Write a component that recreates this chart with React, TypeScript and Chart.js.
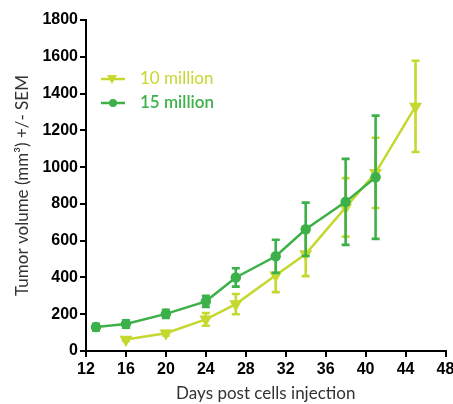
import React, { useEffect, useRef } from "react";
import { Chart, registerables } from "chart.js";

Chart.register(...registerables);

const xTicks = [12, 16, 20, 24, 28, 32, 36, 40, 44, 48];
const yTicks = [0, 200, 400, 600, 800, 1000, 1200, 1400, 1600, 1800];

const label10 = "10 million";
const days10 = [16, 20, 24, 27, 31, 34, 38, 41, 45];
const mean10 = [62, 97, 172, 255, 412, 527, 781, 969, 1330];
const sem10 = [8, 12, 35, 55, 92, 120, 159, 191, 248];

const label15 = "15 million";
const days15 = [13, 16, 20, 24, 27, 31, 34, 38, 41];
const mean15 = [130, 147, 202, 270, 400, 515, 662, 811, 945];
const sem15 = [18, 20, 22, 30, 50, 90, 145, 234, 335];

const color10 = "#c4d82f";
const color15 = "#3cb14a";

const errorBarPlugin = {
  id: "errorBars",
  afterDatasetDraw(chart: any, args: any) {
    const ds = chart.data.datasets[args.index] as any;
    const errs: number[] = ds.errors;
    if (!errs) return;
    const xs = chart.scales.x;
    const ys = chart.scales.y;
    const ctx = chart.ctx;
    ctx.save();
    ctx.strokeStyle = ds.borderColor;
    ctx.lineWidth = 2.6;
    ds.data.forEach((p: any, i: number) => {
      const px = xs.getPixelForValue(p.x);
      const top = ys.getPixelForValue(p.y + errs[i]);
      const bot = ys.getPixelForValue(p.y - errs[i]);
      ctx.beginPath();
      ctx.moveTo(px, top);
      ctx.lineTo(px, bot);
      ctx.moveTo(px - 4, top);
      ctx.lineTo(px + 4, top);
      ctx.moveTo(px - 4, bot);
      ctx.lineTo(px + 4, bot);
      ctx.stroke();
    });
    ctx.restore();
  },
};

const legendPlugin = {
  id: "customLegend",
  afterDraw(chart: any) {
    const ctx = chart.ctx;
    const items = [
      { text: label10, color: color10, style: "tri", y: 79, weight: "normal" },
      { text: label15, color: color15, style: "circ", y: 103, weight: "600" },
    ];
    ctx.save();
    items.forEach((it) => {
      ctx.strokeStyle = it.color;
      ctx.fillStyle = it.color;
      ctx.lineWidth = 2.5;
      ctx.beginPath();
      ctx.moveTo(101, it.y);
      ctx.lineTo(125, it.y);
      ctx.stroke();
      ctx.beginPath();
      if (it.style === "tri") {
        ctx.moveTo(107, it.y - 4);
        ctx.lineTo(117, it.y - 4);
        ctx.lineTo(112, it.y + 5);
        ctx.closePath();
      } else {
        ctx.arc(113, it.y, 4, 0, Math.PI * 2);
      }
      ctx.fill();
      ctx.font = `${it.weight} 17px Lato`;
      ctx.textBaseline = "middle";
      ctx.textAlign = "left";
      ctx.fillText(it.text, 140, it.y);
    });
    ctx.restore();
  },
};

export default function App() {
  const ref = useRef<HTMLCanvasElement>(null);
  useEffect(() => {
    document.body.style.margin = "0";
    const chart = new Chart(ref.current!, {
      type: "line",
      data: {
        datasets: [
          {
            label: label15,
            data: days15.map((d, i) => ({ x: d, y: mean15[i] })),
            errors: sem15,
            borderColor: color15,
            backgroundColor: color15,
            borderWidth: 2.5,
            pointStyle: "circle",
            pointRadius: 4,
            order: 0,
          } as any,
          {
            label: label10,
            data: days10.map((d, i) => ({ x: d, y: mean10[i] })),
            errors: sem10,
            borderColor: color10,
            backgroundColor: color10,
            borderWidth: 2.5,
            pointStyle: "triangle",
            rotation: 180,
            pointRadius: 5,
            order: 1,
          } as any,
        ],
      },
      options: {
        animation: false,
        responsive: false,
        maintainAspectRatio: false,
        layout: { padding: { top: 20, right: 6, left: 0, bottom: 0 } },
        plugins: { legend: { display: false }, tooltip: { enabled: false } },
        scales: {
          x: {
            type: "linear",
            min: 12,
            max: 48,
            afterBuildTicks: (s: any) => {
              s.ticks = xTicks.map((v) => ({ value: v }));
            },
            afterFit: (s: any) => {
              s.height = 53;
              s.paddingLeft = 0;
              s.paddingRight = 0;
            },
            grid: { drawOnChartArea: false, drawTicks: true, tickLength: 6, color: "#000", lineWidth: 2 },
            border: { color: "#000", width: 2 },
            ticks: {
              color: "#000",
              padding: 3,
              font: { family: "Liberation Sans", size: 16, weight: "bold" },
              callback: (v: any) => String(v),
            },
            title: {
              display: true,
              text: "Days post cells injection",
              color: "#333",
              font: { family: "Lato", size: 17 },
              padding: { top: 0, bottom: 0 },
            },
          },
          y: {
            min: 0,
            max: 1800,
            afterBuildTicks: (s: any) => {
              s.ticks = yTicks.map((v) => ({ value: v }));
            },
            afterFit: (s: any) => {
              s.width = 86;
              s.paddingTop = 0;
              s.paddingBottom = 0;
            },
            grid: { drawOnChartArea: false, drawTicks: true, tickLength: 6, color: "#000", lineWidth: 2 },
            border: { color: "#000", width: 2 },
            ticks: {
              color: "#000",
              padding: 2,
              font: { family: "Liberation Sans", size: 16, weight: "bold" },
              callback: (v: any) => String(v),
            },
            title: {
              display: true,
              text: "Tumor volume (mm³) +/- SEM",
              color: "#333",
              font: { family: "Lato", size: 17 },
              padding: { top: 12, bottom: 0 },
            },
          },
        },
      },
      plugins: [errorBarPlugin, legendPlugin],
    });
    return () => chart.destroy();
  }, []);
  return (
    <div style={{ position: "relative", width: 453, height: 404 }}>
      <canvas ref={ref} width={453} height={404} style={{ width: 453, height: 404 }} />
    </div>
  );
}
